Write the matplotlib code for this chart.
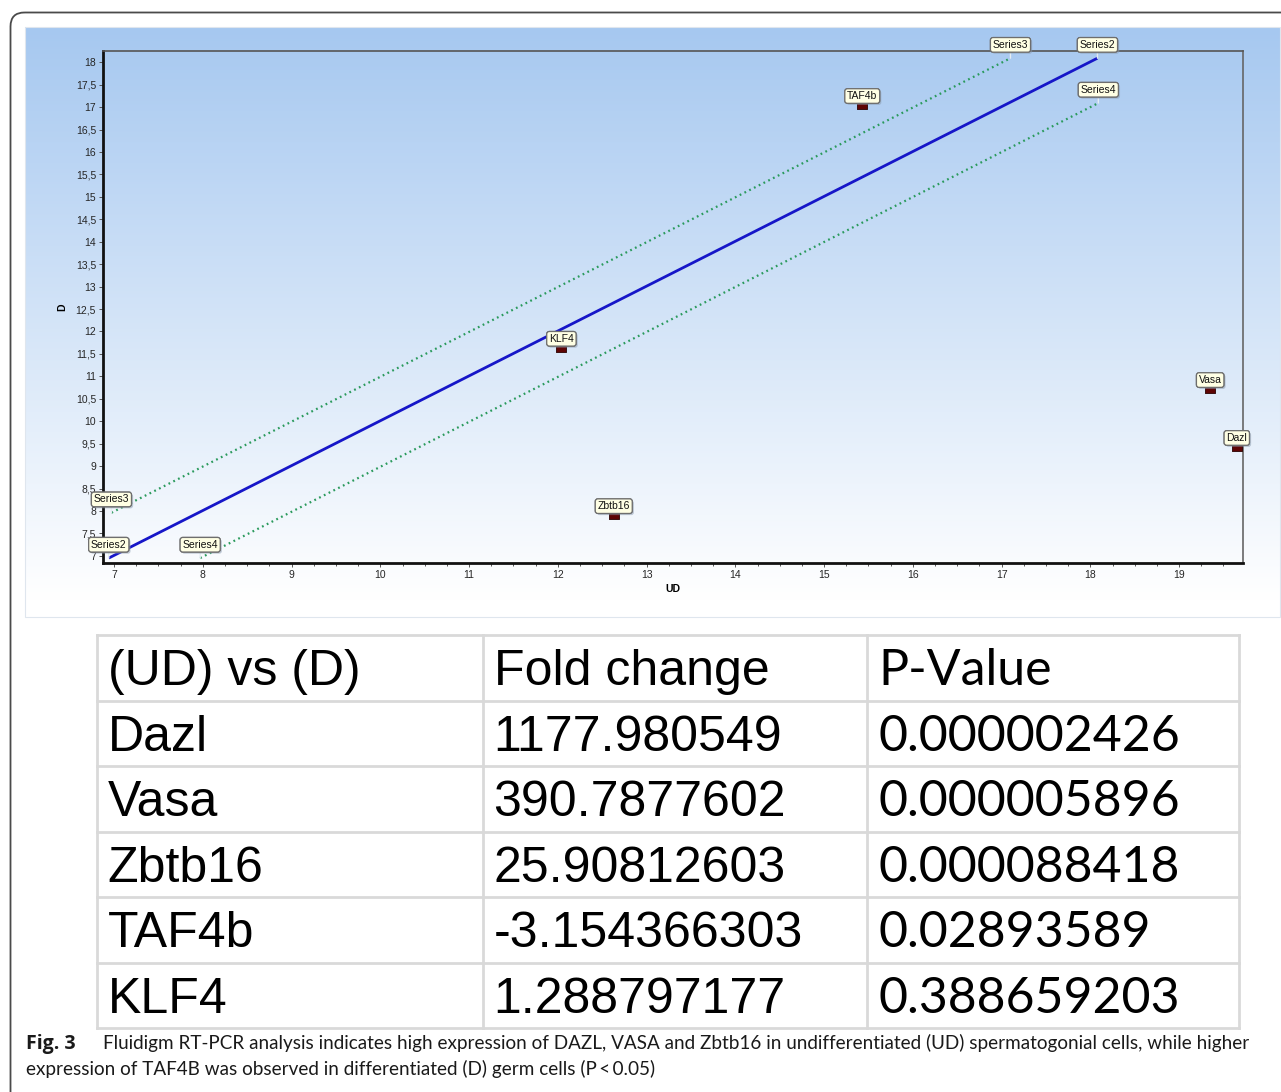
import numpy as np
import matplotlib
matplotlib.use("Agg")
import matplotlib.pyplot as plt
from matplotlib.patches import FancyBboxPatch, Rectangle
from matplotlib.ticker import MultipleLocator, FuncFormatter
import matplotlib.patheffects as pe

# ---------------- data ----------------
genes = ["TAF4b", "KLF4", "Zbtb16", "Vasa", "Dazl"]
gene_ud = [15.43, 12.04, 12.63, 19.35, 19.65]
gene_d = [17.03, 11.62, 7.89, 10.70, 9.41]

series_names = ["Series2", "Series3", "Series4"]
series_x = [[6.94, 18.08], [6.97, 17.10], [7.97, 18.09]]
series_y = [[6.95, 18.09], [7.96, 18.09], [6.95, 17.09]]

table_header = ["(UD) vs (D)", "Fold change", "P-Value"]
table_genes = ["Dazl", "Vasa", "Zbtb16", "TAF4b", "KLF4"]
table_fold = ["1177.980549", "390.7877602", "25.90812603", "-3.154366303", "1.288797177"]
table_p = ["0.000002426", "0.000005896", "0.000088418", "0.02893589", "0.388659203"]

caption_bold = "Fig. 3"
caption_line1 = ("Fluidigm RT-PCR analysis indicates high expression of DAZL, VASA and Zbtb16 "
                 "in undifferentiated (UD) spermatogonial cells, while higher")
caption_line2 = "expression of TAF4B was observed in differentiated (D) germ cells (P\u2009<\u20090.05)"

W, H = 1281, 1092
fig = plt.figure(figsize=(W / 100, H / 100), dpi=100)
fig.patch.set_facecolor("white")

# overlay axis in pixel coordinates
ov = fig.add_axes([0, 0, 1, 1], zorder=0)
ov.set_xlim(0, W)
ov.set_ylim(H, 0)
ov.axis("off")

# outer rounded frame
ov.add_patch(FancyBboxPatch((10.5, 12.5), 1400, 1200,
                            boxstyle="round,pad=0,rounding_size=14",
                            fc="none", ec="#4a4a4a", lw=1.3))

# gradient panel
px0, py0, px1, py1 = 25, 27, 1280, 617
grad = np.linspace(0, 1, 256)[:, None]
top = np.array([166, 200, 240]) / 255.0
bot = np.array([255, 255, 255]) / 255.0
t = np.clip(grad / 0.97, 0, 1)
img = top[None, None, :] * (1 - t[..., None]) + bot[None, None, :] * t[..., None]
img = np.repeat(img, 2, axis=1)
ov.imshow(img, extent=[px0, px1, py1, py0], aspect="auto", zorder=0.5, interpolation="bilinear")
ov.add_patch(Rectangle((px0, py0), px1 - px0, py1 - py0, fc="none", ec="#dfe6ee", lw=0.8, zorder=0.6))

# ---------------- main chart ----------------
ax_l, ax_r, ax_t, ax_b = 103, 1243, 51, 563
ax = fig.add_axes([ax_l / W, (H - ax_b) / H, (ax_r - ax_l) / W, (ax_b - ax_t) / H], zorder=2)
ax.set_facecolor("none")
ax.set_xlim(6.875, 19.72)
ax.set_ylim(6.84, 18.25)

for name, xs, ys in zip(series_names, series_x, series_y):
    if name == "Series2":
        ax.plot(xs, ys, color="#1616c8", lw=2.0, solid_capstyle="butt", zorder=3)
    else:
        ax.plot(xs, ys, color="#2a9a5c", lw=1.6, linestyle=(0, (0.8, 1.6)), zorder=3)

rect_marker = [(-2, -1), (2, -1), (2, 1), (-2, 1), (-2, -1)]
ax.plot(gene_ud, gene_d, linestyle="none", marker=rect_marker, markersize=7.5,
        markerfacecolor="#5e0404", markeredgecolor="#2a0000", markeredgewidth=0.6, zorder=4)

box_style = dict(boxstyle="round,pad=0.22,rounding_size=0.25", fc="#ffffe4", ec="#6e6e6e", lw=0.9)
shadow = [pe.withSimplePatchShadow(offset=(1.2, -1.2), shadow_rgbFace="#8a9bb0", alpha=0.5), pe.Normal()]
lab_fs = 7.5

for g, x, y in zip(genes, gene_ud, gene_d):
    a = ax.annotate(g, (x, y), xytext=(0, 3.4), textcoords="offset points",
                    ha="center", va="bottom", fontsize=lab_fs, family="Liberation Sans",
                    color="#111111", bbox=box_style, zorder=5, annotation_clip=False)
    a.get_bbox_patch().set_path_effects(shadow)

for name, xs, ys in zip(series_names, series_x, series_y):
    for x, y in zip(xs, ys):
        a = ax.annotate(name, (x, y), xytext=(0, 6), textcoords="offset points",
                        ha="center", va="bottom", fontsize=lab_fs, family="Liberation Sans",
                        color="#111111", bbox=box_style, zorder=5, annotation_clip=False,
                        arrowprops=dict(arrowstyle="-", color="#e4ecf2", lw=1.0,
                                        shrinkA=0, shrinkB=0))
        a.get_bbox_patch().set_path_effects(shadow)

ax.xaxis.set_major_locator(MultipleLocator(1))
ax.xaxis.set_minor_locator(MultipleLocator(0.25))
ax.yaxis.set_major_locator(MultipleLocator(0.5))
ax.yaxis.set_major_formatter(FuncFormatter(lambda v, p: (f"{v:g}").replace(".", ",")))
ax.xaxis.set_major_formatter(FuncFormatter(lambda v, p: f"{v:g}"))
ax.tick_params(axis="both", which="major", labelsize=7.5, labelcolor="#262626",
               color="#555555", length=3, width=0.7, direction="out", pad=2)
ax.tick_params(axis="x", which="minor", length=2.5, width=0.7, color="#555555")
for lab in ax.get_xticklabels() + ax.get_yticklabels():
    lab.set_family("Liberation Sans")

ax.spines["left"].set_color("#111111")
ax.spines["left"].set_linewidth(2.0)
ax.spines["bottom"].set_color("#111111")
ax.spines["bottom"].set_linewidth(2.0)
ax.spines["top"].set_color("#555555")
ax.spines["top"].set_linewidth(1.2)
ax.spines["right"].set_color("#666666")
ax.spines["right"].set_linewidth(1.2)

ax.set_xlabel("UD", fontsize=7.5, fontweight="bold", family="Liberation Sans", labelpad=3)
ax.set_ylabel("D", fontsize=7.5, fontweight="bold", family="Liberation Sans", labelpad=6)

# ---------------- table ----------------
col_edges = [96.5, 482.5, 867, 1239]
row_edges = [635, 701, 766, 832, 897, 963, 1028]
grid_c = "#d9d9d9"
for xe in col_edges:
    ov.plot([xe, xe], [row_edges[0], row_edges[-1]], color=grid_c, lw=2, zorder=1)
for ye in row_edges:
    ov.plot([col_edges[0], col_edges[-1]], [ye, ye], color=grid_c, lw=2, zorder=1)

fonts = ["Liberation Sans", "Liberation Sans", "Lato"]
rows = [table_header] + [[g, f, p] for g, f, p in zip(table_genes, table_fold, table_p)]
for ri, row in enumerate(rows):
    base = row_edges[ri] + 50
    for ci, txt in enumerate(row):
        ov.text(col_edges[ci] + 11, base, txt, fontsize=36, family=fonts[ci],
                va="baseline", ha="left", color="black", zorder=2)

# ---------------- caption ----------------
ov.text(26, 1049, caption_bold, fontsize=14, fontweight="bold", family="Open Sans",
        va="baseline", ha="left", color="#1a1a1a")
ov.text(103, 1049, caption_line1, fontsize=13.6, family="Lato",
        va="baseline", ha="left", color="#1a1a1a")
ov.text(26, 1075, caption_line2, fontsize=13.6, family="Lato",
        va="baseline", ha="left", color="#1a1a1a")

fig.savefig("out.png", dpi=100)
